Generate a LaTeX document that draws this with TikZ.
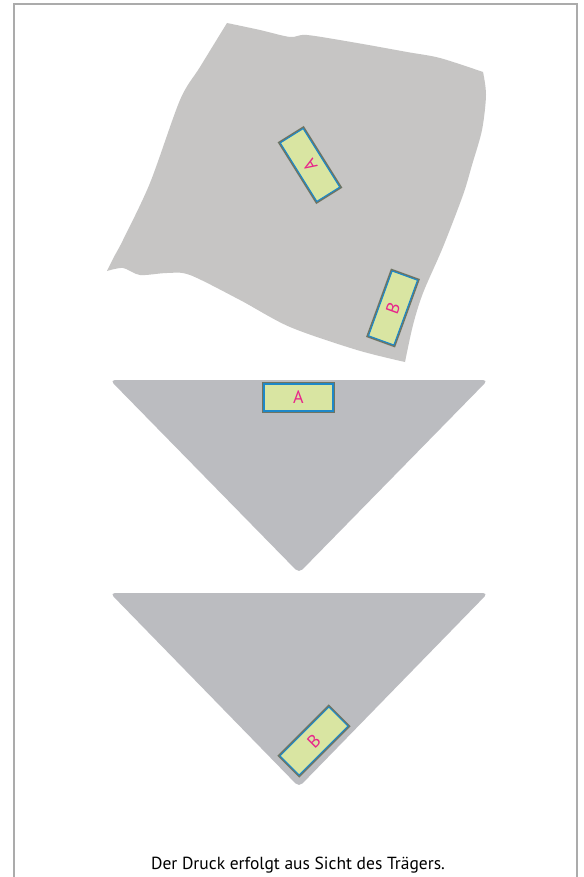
\documentclass[tikz,border=0pt]{standalone}
\usepackage{fontspec}
\setmainfont{PT Sans}
\definecolor{frame}{HTML}{ABABAB}
\definecolor{cloth}{HTML}{C6C5C4}
\definecolor{tri}{HTML}{BBBCC0}
\definecolor{boxfill}{HTML}{D9E5A2}
\definecolor{boxblue}{HTML}{1E88C8}
\definecolor{boxgray}{HTML}{6F7462}
\definecolor{pinktext}{HTML}{E8268A}
\begin{document}
\begin{tikzpicture}[x=1pt,y=-1pt,
  patch/.style={rectangle, minimum width=69pt, minimum height=27pt, inner sep=0pt,
    fill=boxfill, draw=boxblue, line width=1.1pt,
    preaction={draw=boxgray, line width=3.8pt},
    text=pinktext, font=\fontsize{18}{20}\selectfont},
  trishape/.style={fill=tri, rounded corners=5pt}]
\useasboundingbox (0,0) rectangle (583,877);
\fill[white] (0,0) rectangle (583,877);
% frame
\draw[frame, line width=2pt] (14,890) -- (14,4) -- (577,4) -- (577,890);
% cloth
\fill[cloth]
 plot[smooth, tension=0.5] coordinates {(227,23) (260,30) (290,37) (307,35) (357,43) (407,52) (440,58) (483,72)}
 -- plot[smooth, tension=0.5] coordinates {(483,72) (486,95) (482,130) (472,165) (463,195) (443,247) (423,293) (413,325) (405,362)}
 -- plot[smooth, tension=0.5] coordinates {(405,362) (357,350) (290,327) (240,300) (190,275) (167,273) (140,275) (123,268) (107,271)}
 -- plot[smooth, tension=0.5] coordinates {(107,271) (115,255) (123,240) (150,183) (180,100) (200,67) (227,23)}
 -- cycle;
\node[patch, rotate=122] (clothA) at (310,165) {A};
\node[patch, rotate=70] (clothB) at (393,308) {B};
% triangles
\fill[trishape] (110,380) -- (488,380) -- (299,573) -- cycle;
\fill[trishape] (110,593) -- (488,593) -- (299,787) -- cycle;
\node[patch] (triA) at (298.5,397.5) {A};
\node[patch, rotate=45] (triB) at (314,741) {B};
% caption
\node[font=\fontsize{17.5}{20}\selectfont] (caption) at (298,865) {Der Druck erfolgt aus Sicht des Trägers.};
\end{tikzpicture}
\end{document}
